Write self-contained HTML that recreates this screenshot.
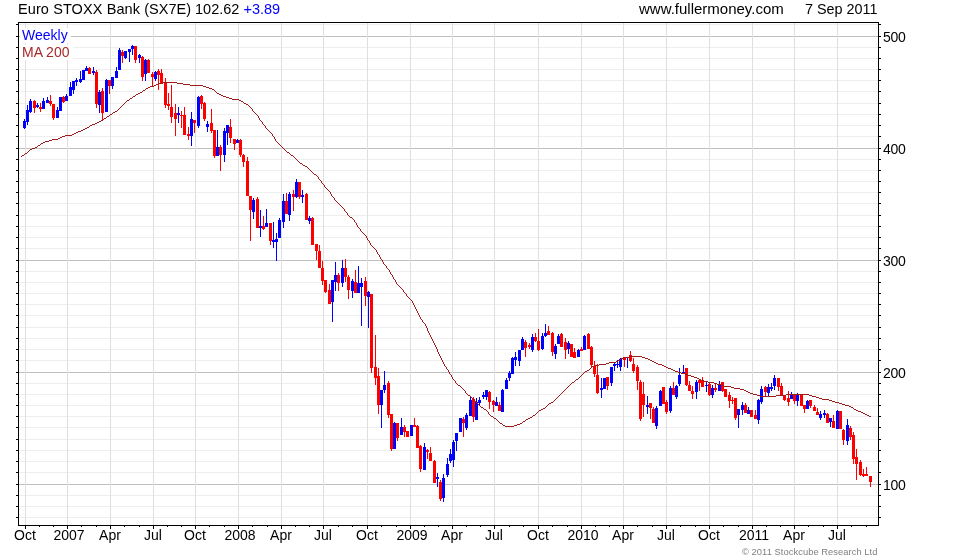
<!DOCTYPE html>
<html><head><meta charset="utf-8"><title>Euro STOXX Bank (SX7E)</title>
<style>
html,body{margin:0;padding:0;background:#fff;}
body{width:960px;height:560px;position:relative;overflow:hidden;font-family:"Liberation Sans",sans-serif;color:#000;}
.t,.xl,.yl{will-change:transform;}
.t{position:absolute;white-space:nowrap;font-size:14.5px;line-height:16px;}
.xl{position:absolute;top:527px;width:60px;text-align:center;font-size:14px;line-height:16px;white-space:nowrap;}
.yl{position:absolute;left:883px;letter-spacing:-0.3px;font-size:14px;line-height:16px;white-space:nowrap;}
</style></head><body>
<svg width="960" height="560" viewBox="0 0 960 560" style="position:absolute;left:0;top:0">
<rect width="960" height="560" fill="#fff"/>
<g shape-rendering="crispEdges">
<rect x="19" y="517" width="859" height="1" fill="#eeeeee"/>
<rect x="19" y="506" width="859" height="1" fill="#eeeeee"/>
<rect x="19" y="495" width="859" height="1" fill="#eeeeee"/>
<rect x="19" y="484" width="859" height="1" fill="#bfbfbf"/>
<rect x="19" y="472" width="859" height="1" fill="#eeeeee"/>
<rect x="19" y="461" width="859" height="1" fill="#eeeeee"/>
<rect x="19" y="450" width="859" height="1" fill="#eeeeee"/>
<rect x="19" y="439" width="859" height="1" fill="#eeeeee"/>
<rect x="19" y="427" width="859" height="1" fill="#eeeeee"/>
<rect x="19" y="416" width="859" height="1" fill="#eeeeee"/>
<rect x="19" y="405" width="859" height="1" fill="#eeeeee"/>
<rect x="19" y="394" width="859" height="1" fill="#eeeeee"/>
<rect x="19" y="383" width="859" height="1" fill="#eeeeee"/>
<rect x="19" y="372" width="859" height="1" fill="#bfbfbf"/>
<rect x="19" y="360" width="859" height="1" fill="#eeeeee"/>
<rect x="19" y="349" width="859" height="1" fill="#eeeeee"/>
<rect x="19" y="338" width="859" height="1" fill="#eeeeee"/>
<rect x="19" y="327" width="859" height="1" fill="#eeeeee"/>
<rect x="19" y="315" width="859" height="1" fill="#eeeeee"/>
<rect x="19" y="304" width="859" height="1" fill="#eeeeee"/>
<rect x="19" y="293" width="859" height="1" fill="#eeeeee"/>
<rect x="19" y="282" width="859" height="1" fill="#eeeeee"/>
<rect x="19" y="271" width="859" height="1" fill="#eeeeee"/>
<rect x="19" y="260" width="859" height="1" fill="#bfbfbf"/>
<rect x="19" y="248" width="859" height="1" fill="#eeeeee"/>
<rect x="19" y="237" width="859" height="1" fill="#eeeeee"/>
<rect x="19" y="226" width="859" height="1" fill="#eeeeee"/>
<rect x="19" y="215" width="859" height="1" fill="#eeeeee"/>
<rect x="19" y="203" width="859" height="1" fill="#eeeeee"/>
<rect x="19" y="192" width="859" height="1" fill="#eeeeee"/>
<rect x="19" y="181" width="859" height="1" fill="#eeeeee"/>
<rect x="19" y="170" width="859" height="1" fill="#eeeeee"/>
<rect x="19" y="159" width="859" height="1" fill="#eeeeee"/>
<rect x="19" y="148" width="859" height="1" fill="#bfbfbf"/>
<rect x="19" y="136" width="859" height="1" fill="#eeeeee"/>
<rect x="19" y="125" width="859" height="1" fill="#eeeeee"/>
<rect x="19" y="114" width="859" height="1" fill="#eeeeee"/>
<rect x="19" y="103" width="859" height="1" fill="#eeeeee"/>
<rect x="19" y="91" width="859" height="1" fill="#eeeeee"/>
<rect x="19" y="80" width="859" height="1" fill="#eeeeee"/>
<rect x="19" y="69" width="859" height="1" fill="#eeeeee"/>
<rect x="19" y="58" width="859" height="1" fill="#eeeeee"/>
<rect x="19" y="47" width="859" height="1" fill="#eeeeee"/>
<rect x="19" y="36" width="859" height="1" fill="#bfbfbf"/>
<rect x="19" y="24" width="859" height="1" fill="#eeeeee"/>
<rect x="25" y="23" width="1" height="502" fill="#dfdfdf"/>
<rect x="67" y="23" width="1" height="502" fill="#dfdfdf"/>
<rect x="110" y="23" width="1" height="502" fill="#dfdfdf"/>
<rect x="153" y="23" width="1" height="502" fill="#dfdfdf"/>
<rect x="195" y="23" width="1" height="502" fill="#dfdfdf"/>
<rect x="238" y="23" width="1" height="502" fill="#dfdfdf"/>
<rect x="281" y="23" width="1" height="502" fill="#dfdfdf"/>
<rect x="323" y="23" width="1" height="502" fill="#dfdfdf"/>
<rect x="367" y="23" width="1" height="502" fill="#dfdfdf"/>
<rect x="410" y="23" width="1" height="502" fill="#dfdfdf"/>
<rect x="452" y="23" width="1" height="502" fill="#dfdfdf"/>
<rect x="494" y="23" width="1" height="502" fill="#dfdfdf"/>
<rect x="538" y="23" width="1" height="502" fill="#dfdfdf"/>
<rect x="581" y="23" width="1" height="502" fill="#dfdfdf"/>
<rect x="623" y="23" width="1" height="502" fill="#dfdfdf"/>
<rect x="666" y="23" width="1" height="502" fill="#dfdfdf"/>
<rect x="709" y="23" width="1" height="502" fill="#dfdfdf"/>
<rect x="752" y="23" width="1" height="502" fill="#dfdfdf"/>
<rect x="794" y="23" width="1" height="502" fill="#dfdfdf"/>
<rect x="837" y="23" width="1" height="502" fill="#dfdfdf"/>
</g>
<rect x="20" y="28" width="51" height="15" fill="#fff"/>
<rect x="20" y="45" width="53" height="15" fill="#fff"/>
<g shape-rendering="crispEdges">
<rect x="24" y="119" width="1" height="10" fill="#0000ff"/>
<rect x="23" y="121" width="3" height="7" fill="#0000ff"/>
<rect x="27" y="105" width="1" height="20" fill="#0000ff"/>
<rect x="26" y="110" width="3" height="12" fill="#0000ff"/>
<rect x="30" y="99" width="1" height="14" fill="#0000ff"/>
<rect x="29" y="101" width="3" height="11" fill="#0000ff"/>
<rect x="34" y="100" width="1" height="13" fill="#ff0000"/>
<rect x="33" y="101" width="3" height="7" fill="#ff0000"/>
<rect x="37" y="103" width="1" height="5" fill="#0000ff"/>
<rect x="36" y="105" width="3" height="2" fill="#0000ff"/>
<rect x="40" y="103" width="1" height="9" fill="#ff0000"/>
<rect x="39" y="107" width="3" height="2" fill="#ff0000"/>
<rect x="43" y="98" width="1" height="11" fill="#0000ff"/>
<rect x="42" y="101" width="3" height="8" fill="#0000ff"/>
<rect x="47" y="97" width="1" height="6" fill="#0000ff"/>
<rect x="46" y="100" width="3" height="3" fill="#0000ff"/>
<rect x="50" y="95" width="1" height="11" fill="#ff0000"/>
<rect x="49" y="101" width="3" height="3" fill="#ff0000"/>
<rect x="53" y="104" width="1" height="16" fill="#ff0000"/>
<rect x="52" y="104" width="3" height="14" fill="#ff0000"/>
<rect x="57" y="107" width="1" height="11" fill="#0000ff"/>
<rect x="56" y="110" width="3" height="8" fill="#0000ff"/>
<rect x="60" y="97" width="1" height="14" fill="#0000ff"/>
<rect x="59" y="97" width="3" height="14" fill="#0000ff"/>
<rect x="63" y="96" width="1" height="7" fill="#ff0000"/>
<rect x="62" y="97" width="3" height="5" fill="#ff0000"/>
<rect x="66" y="94" width="1" height="7" fill="#0000ff"/>
<rect x="65" y="96" width="3" height="5" fill="#0000ff"/>
<rect x="70" y="82" width="1" height="14" fill="#0000ff"/>
<rect x="69" y="87" width="3" height="9" fill="#0000ff"/>
<rect x="73" y="81" width="1" height="13" fill="#0000ff"/>
<rect x="72" y="81" width="3" height="9" fill="#0000ff"/>
<rect x="76" y="78" width="1" height="8" fill="#0000ff"/>
<rect x="75" y="80" width="3" height="2" fill="#0000ff"/>
<rect x="80" y="71" width="1" height="12" fill="#0000ff"/>
<rect x="79" y="79" width="3" height="3" fill="#0000ff"/>
<rect x="83" y="70" width="1" height="10" fill="#0000ff"/>
<rect x="82" y="70" width="3" height="10" fill="#0000ff"/>
<rect x="86" y="66" width="1" height="5" fill="#0000ff"/>
<rect x="85" y="68" width="3" height="3" fill="#0000ff"/>
<rect x="89" y="67" width="1" height="7" fill="#ff0000"/>
<rect x="88" y="68" width="3" height="6" fill="#ff0000"/>
<rect x="93" y="67" width="1" height="8" fill="#0000ff"/>
<rect x="92" y="71" width="3" height="2" fill="#0000ff"/>
<rect x="96" y="70" width="1" height="38" fill="#ff0000"/>
<rect x="95" y="72" width="3" height="32" fill="#ff0000"/>
<rect x="99" y="90" width="1" height="23" fill="#0000ff"/>
<rect x="98" y="92" width="3" height="13" fill="#0000ff"/>
<rect x="102" y="88" width="1" height="32" fill="#ff0000"/>
<rect x="101" y="91" width="3" height="22" fill="#ff0000"/>
<rect x="106" y="79" width="1" height="33" fill="#0000ff"/>
<rect x="105" y="80" width="3" height="32" fill="#0000ff"/>
<rect x="109" y="80" width="1" height="14" fill="#ff0000"/>
<rect x="108" y="80" width="3" height="6" fill="#ff0000"/>
<rect x="112" y="77" width="1" height="12" fill="#0000ff"/>
<rect x="111" y="77" width="3" height="9" fill="#0000ff"/>
<rect x="116" y="67" width="1" height="11" fill="#0000ff"/>
<rect x="115" y="71" width="3" height="7" fill="#0000ff"/>
<rect x="119" y="48" width="1" height="22" fill="#0000ff"/>
<rect x="118" y="50" width="3" height="20" fill="#0000ff"/>
<rect x="122" y="50" width="1" height="13" fill="#ff0000"/>
<rect x="121" y="52" width="3" height="4" fill="#ff0000"/>
<rect x="125" y="51" width="1" height="8" fill="#0000ff"/>
<rect x="124" y="51" width="3" height="7" fill="#0000ff"/>
<rect x="129" y="49" width="1" height="13" fill="#0000ff"/>
<rect x="128" y="49" width="3" height="3" fill="#0000ff"/>
<rect x="132" y="45" width="1" height="10" fill="#0000ff"/>
<rect x="131" y="46" width="3" height="3" fill="#0000ff"/>
<rect x="135" y="46" width="1" height="17" fill="#ff0000"/>
<rect x="134" y="46" width="3" height="14" fill="#ff0000"/>
<rect x="139" y="54" width="1" height="9" fill="#0000ff"/>
<rect x="138" y="55" width="3" height="3" fill="#0000ff"/>
<rect x="142" y="56" width="1" height="25" fill="#ff0000"/>
<rect x="141" y="57" width="3" height="20" fill="#ff0000"/>
<rect x="145" y="59" width="1" height="22" fill="#0000ff"/>
<rect x="144" y="60" width="3" height="14" fill="#0000ff"/>
<rect x="148" y="59" width="1" height="14" fill="#ff0000"/>
<rect x="147" y="60" width="3" height="13" fill="#ff0000"/>
<rect x="152" y="72" width="1" height="14" fill="#ff0000"/>
<rect x="151" y="74" width="3" height="3" fill="#ff0000"/>
<rect x="155" y="71" width="1" height="10" fill="#0000ff"/>
<rect x="154" y="72" width="3" height="7" fill="#0000ff"/>
<rect x="158" y="69" width="1" height="21" fill="#ff0000"/>
<rect x="157" y="71" width="3" height="4" fill="#ff0000"/>
<rect x="161" y="69" width="1" height="14" fill="#ff0000"/>
<rect x="160" y="73" width="3" height="10" fill="#ff0000"/>
<rect x="165" y="78" width="1" height="30" fill="#ff0000"/>
<rect x="164" y="83" width="3" height="22" fill="#ff0000"/>
<rect x="168" y="93" width="1" height="17" fill="#ff0000"/>
<rect x="167" y="104" width="3" height="2" fill="#ff0000"/>
<rect x="171" y="85" width="1" height="38" fill="#ff0000"/>
<rect x="170" y="107" width="3" height="10" fill="#ff0000"/>
<rect x="175" y="104" width="1" height="32" fill="#ff0000"/>
<rect x="174" y="113" width="3" height="6" fill="#ff0000"/>
<rect x="178" y="107" width="1" height="16" fill="#0000ff"/>
<rect x="177" y="113" width="3" height="2" fill="#0000ff"/>
<rect x="181" y="111" width="1" height="17" fill="#ff0000"/>
<rect x="180" y="115" width="3" height="1" fill="#ff0000"/>
<rect x="184" y="107" width="1" height="28" fill="#ff0000"/>
<rect x="183" y="115" width="3" height="20" fill="#ff0000"/>
<rect x="188" y="127" width="1" height="13" fill="#ff0000"/>
<rect x="187" y="134" width="3" height="2" fill="#ff0000"/>
<rect x="191" y="112" width="1" height="34" fill="#0000ff"/>
<rect x="190" y="119" width="3" height="17" fill="#0000ff"/>
<rect x="194" y="120" width="1" height="13" fill="#ff0000"/>
<rect x="193" y="120" width="3" height="3" fill="#ff0000"/>
<rect x="198" y="96" width="1" height="32" fill="#0000ff"/>
<rect x="197" y="97" width="3" height="29" fill="#0000ff"/>
<rect x="201" y="95" width="1" height="14" fill="#ff0000"/>
<rect x="200" y="96" width="3" height="8" fill="#ff0000"/>
<rect x="204" y="102" width="1" height="19" fill="#ff0000"/>
<rect x="203" y="103" width="3" height="16" fill="#ff0000"/>
<rect x="207" y="121" width="1" height="11" fill="#0000ff"/>
<rect x="206" y="124" width="3" height="3" fill="#0000ff"/>
<rect x="211" y="109" width="1" height="24" fill="#ff0000"/>
<rect x="210" y="123" width="3" height="8" fill="#ff0000"/>
<rect x="214" y="130" width="1" height="28" fill="#ff0000"/>
<rect x="213" y="130" width="3" height="26" fill="#ff0000"/>
<rect x="217" y="130" width="1" height="26" fill="#0000ff"/>
<rect x="216" y="147" width="3" height="9" fill="#0000ff"/>
<rect x="220" y="145" width="1" height="26" fill="#ff0000"/>
<rect x="219" y="147" width="3" height="8" fill="#ff0000"/>
<rect x="224" y="128" width="1" height="34" fill="#0000ff"/>
<rect x="223" y="131" width="3" height="24" fill="#0000ff"/>
<rect x="227" y="125" width="1" height="20" fill="#0000ff"/>
<rect x="226" y="125" width="3" height="8" fill="#0000ff"/>
<rect x="230" y="119" width="1" height="24" fill="#ff0000"/>
<rect x="229" y="127" width="3" height="11" fill="#ff0000"/>
<rect x="234" y="139" width="1" height="11" fill="#ff0000"/>
<rect x="233" y="139" width="3" height="5" fill="#ff0000"/>
<rect x="237" y="139" width="1" height="4" fill="#0000ff"/>
<rect x="236" y="140" width="3" height="3" fill="#0000ff"/>
<rect x="240" y="139" width="1" height="18" fill="#ff0000"/>
<rect x="239" y="140" width="3" height="15" fill="#ff0000"/>
<rect x="243" y="154" width="1" height="13" fill="#ff0000"/>
<rect x="242" y="155" width="3" height="7" fill="#ff0000"/>
<rect x="247" y="157" width="1" height="39" fill="#ff0000"/>
<rect x="246" y="161" width="3" height="35" fill="#ff0000"/>
<rect x="250" y="196" width="1" height="45" fill="#ff0000"/>
<rect x="249" y="196" width="3" height="14" fill="#ff0000"/>
<rect x="253" y="198" width="1" height="21" fill="#0000ff"/>
<rect x="252" y="200" width="3" height="12" fill="#0000ff"/>
<rect x="257" y="197" width="1" height="31" fill="#ff0000"/>
<rect x="256" y="199" width="3" height="29" fill="#ff0000"/>
<rect x="260" y="210" width="1" height="27" fill="#0000ff"/>
<rect x="259" y="226" width="3" height="2" fill="#0000ff"/>
<rect x="263" y="216" width="1" height="14" fill="#ff0000"/>
<rect x="262" y="226" width="3" height="3" fill="#ff0000"/>
<rect x="266" y="209" width="1" height="18" fill="#0000ff"/>
<rect x="265" y="223" width="3" height="4" fill="#0000ff"/>
<rect x="270" y="223" width="1" height="22" fill="#ff0000"/>
<rect x="269" y="223" width="3" height="18" fill="#ff0000"/>
<rect x="273" y="222" width="1" height="26" fill="#0000ff"/>
<rect x="272" y="240" width="3" height="2" fill="#0000ff"/>
<rect x="276" y="233" width="1" height="28" fill="#0000ff"/>
<rect x="275" y="239" width="3" height="3" fill="#0000ff"/>
<rect x="279" y="218" width="1" height="20" fill="#0000ff"/>
<rect x="278" y="220" width="3" height="18" fill="#0000ff"/>
<rect x="283" y="194" width="1" height="34" fill="#0000ff"/>
<rect x="282" y="201" width="3" height="21" fill="#0000ff"/>
<rect x="286" y="193" width="1" height="21" fill="#ff0000"/>
<rect x="285" y="201" width="3" height="13" fill="#ff0000"/>
<rect x="289" y="192" width="1" height="29" fill="#0000ff"/>
<rect x="288" y="194" width="3" height="21" fill="#0000ff"/>
<rect x="293" y="190" width="1" height="21" fill="#ff0000"/>
<rect x="292" y="194" width="3" height="3" fill="#ff0000"/>
<rect x="296" y="179" width="1" height="19" fill="#0000ff"/>
<rect x="295" y="182" width="3" height="15" fill="#0000ff"/>
<rect x="299" y="182" width="1" height="17" fill="#ff0000"/>
<rect x="298" y="182" width="3" height="15" fill="#ff0000"/>
<rect x="302" y="190" width="1" height="13" fill="#0000ff"/>
<rect x="301" y="195" width="3" height="2" fill="#0000ff"/>
<rect x="306" y="193" width="1" height="27" fill="#ff0000"/>
<rect x="305" y="194" width="3" height="26" fill="#ff0000"/>
<rect x="309" y="216" width="1" height="8" fill="#0000ff"/>
<rect x="308" y="218" width="3" height="3" fill="#0000ff"/>
<rect x="312" y="217" width="1" height="28" fill="#ff0000"/>
<rect x="311" y="218" width="3" height="27" fill="#ff0000"/>
<rect x="316" y="244" width="1" height="16" fill="#ff0000"/>
<rect x="315" y="244" width="3" height="7" fill="#ff0000"/>
<rect x="319" y="245" width="1" height="23" fill="#ff0000"/>
<rect x="318" y="251" width="3" height="17" fill="#ff0000"/>
<rect x="322" y="261" width="1" height="24" fill="#ff0000"/>
<rect x="321" y="268" width="3" height="13" fill="#ff0000"/>
<rect x="325" y="280" width="1" height="13" fill="#ff0000"/>
<rect x="324" y="280" width="3" height="12" fill="#ff0000"/>
<rect x="329" y="284" width="1" height="20" fill="#ff0000"/>
<rect x="328" y="290" width="3" height="14" fill="#ff0000"/>
<rect x="332" y="280" width="1" height="42" fill="#0000ff"/>
<rect x="331" y="280" width="3" height="22" fill="#0000ff"/>
<rect x="335" y="262" width="1" height="29" fill="#0000ff"/>
<rect x="334" y="275" width="3" height="7" fill="#0000ff"/>
<rect x="338" y="273" width="1" height="18" fill="#ff0000"/>
<rect x="337" y="275" width="3" height="8" fill="#ff0000"/>
<rect x="342" y="260" width="1" height="27" fill="#0000ff"/>
<rect x="341" y="268" width="3" height="15" fill="#0000ff"/>
<rect x="345" y="259" width="1" height="23" fill="#ff0000"/>
<rect x="344" y="268" width="3" height="9" fill="#ff0000"/>
<rect x="348" y="275" width="1" height="24" fill="#ff0000"/>
<rect x="347" y="277" width="3" height="13" fill="#ff0000"/>
<rect x="352" y="279" width="1" height="19" fill="#0000ff"/>
<rect x="351" y="281" width="3" height="10" fill="#0000ff"/>
<rect x="355" y="270" width="1" height="23" fill="#ff0000"/>
<rect x="354" y="282" width="3" height="11" fill="#ff0000"/>
<rect x="358" y="266" width="1" height="27" fill="#0000ff"/>
<rect x="357" y="283" width="3" height="10" fill="#0000ff"/>
<rect x="361" y="278" width="1" height="48" fill="#0000ff"/>
<rect x="360" y="283" width="3" height="4" fill="#0000ff"/>
<rect x="365" y="277" width="1" height="29" fill="#ff0000"/>
<rect x="364" y="281" width="3" height="15" fill="#ff0000"/>
<rect x="368" y="291" width="1" height="37" fill="#0000ff"/>
<rect x="367" y="292" width="3" height="5" fill="#0000ff"/>
<rect x="371" y="294" width="1" height="79" fill="#ff0000"/>
<rect x="370" y="294" width="3" height="74" fill="#ff0000"/>
<rect x="375" y="335" width="1" height="50" fill="#ff0000"/>
<rect x="374" y="367" width="3" height="11" fill="#ff0000"/>
<rect x="378" y="368" width="1" height="46" fill="#ff0000"/>
<rect x="377" y="376" width="3" height="29" fill="#ff0000"/>
<rect x="381" y="390" width="1" height="38" fill="#0000ff"/>
<rect x="380" y="390" width="3" height="15" fill="#0000ff"/>
<rect x="384" y="371" width="1" height="22" fill="#0000ff"/>
<rect x="383" y="385" width="3" height="5" fill="#0000ff"/>
<rect x="388" y="381" width="1" height="37" fill="#ff0000"/>
<rect x="387" y="383" width="3" height="32" fill="#ff0000"/>
<rect x="391" y="414" width="1" height="37" fill="#ff0000"/>
<rect x="390" y="414" width="3" height="35" fill="#ff0000"/>
<rect x="394" y="422" width="1" height="27" fill="#0000ff"/>
<rect x="393" y="423" width="3" height="26" fill="#0000ff"/>
<rect x="397" y="423" width="1" height="18" fill="#ff0000"/>
<rect x="396" y="423" width="3" height="15" fill="#ff0000"/>
<rect x="401" y="418" width="1" height="17" fill="#0000ff"/>
<rect x="400" y="427" width="3" height="8" fill="#0000ff"/>
<rect x="404" y="425" width="1" height="12" fill="#ff0000"/>
<rect x="403" y="427" width="3" height="5" fill="#ff0000"/>
<rect x="407" y="431" width="1" height="6" fill="#ff0000"/>
<rect x="406" y="431" width="3" height="6" fill="#ff0000"/>
<rect x="411" y="425" width="1" height="11" fill="#0000ff"/>
<rect x="410" y="425" width="3" height="11" fill="#0000ff"/>
<rect x="414" y="418" width="1" height="9" fill="#ff0000"/>
<rect x="413" y="425" width="3" height="2" fill="#ff0000"/>
<rect x="417" y="425" width="1" height="23" fill="#ff0000"/>
<rect x="416" y="426" width="3" height="22" fill="#ff0000"/>
<rect x="420" y="445" width="1" height="27" fill="#ff0000"/>
<rect x="419" y="446" width="3" height="23" fill="#ff0000"/>
<rect x="424" y="443" width="1" height="27" fill="#0000ff"/>
<rect x="423" y="447" width="3" height="23" fill="#0000ff"/>
<rect x="427" y="449" width="1" height="10" fill="#ff0000"/>
<rect x="426" y="450" width="3" height="2" fill="#ff0000"/>
<rect x="430" y="447" width="1" height="14" fill="#ff0000"/>
<rect x="429" y="453" width="3" height="8" fill="#ff0000"/>
<rect x="434" y="460" width="1" height="23" fill="#ff0000"/>
<rect x="433" y="461" width="3" height="22" fill="#ff0000"/>
<rect x="437" y="473" width="1" height="14" fill="#0000ff"/>
<rect x="436" y="477" width="3" height="2" fill="#0000ff"/>
<rect x="440" y="480" width="1" height="21" fill="#ff0000"/>
<rect x="439" y="482" width="3" height="17" fill="#ff0000"/>
<rect x="443" y="474" width="1" height="28" fill="#0000ff"/>
<rect x="442" y="478" width="3" height="20" fill="#0000ff"/>
<rect x="447" y="458" width="1" height="19" fill="#0000ff"/>
<rect x="446" y="464" width="3" height="11" fill="#0000ff"/>
<rect x="450" y="449" width="1" height="14" fill="#0000ff"/>
<rect x="449" y="454" width="3" height="7" fill="#0000ff"/>
<rect x="453" y="440" width="1" height="27" fill="#0000ff"/>
<rect x="452" y="442" width="3" height="18" fill="#0000ff"/>
<rect x="456" y="433" width="1" height="18" fill="#0000ff"/>
<rect x="455" y="433" width="3" height="8" fill="#0000ff"/>
<rect x="460" y="418" width="1" height="14" fill="#0000ff"/>
<rect x="459" y="418" width="3" height="14" fill="#0000ff"/>
<rect x="463" y="417" width="1" height="20" fill="#ff0000"/>
<rect x="462" y="419" width="3" height="4" fill="#ff0000"/>
<rect x="466" y="413" width="1" height="17" fill="#0000ff"/>
<rect x="465" y="415" width="3" height="13" fill="#0000ff"/>
<rect x="470" y="397" width="1" height="19" fill="#0000ff"/>
<rect x="469" y="400" width="3" height="16" fill="#0000ff"/>
<rect x="473" y="397" width="1" height="25" fill="#ff0000"/>
<rect x="472" y="399" width="3" height="18" fill="#ff0000"/>
<rect x="476" y="398" width="1" height="22" fill="#0000ff"/>
<rect x="475" y="402" width="3" height="18" fill="#0000ff"/>
<rect x="479" y="397" width="1" height="8" fill="#0000ff"/>
<rect x="478" y="400" width="3" height="3" fill="#0000ff"/>
<rect x="483" y="392" width="1" height="7" fill="#0000ff"/>
<rect x="482" y="395" width="3" height="2" fill="#0000ff"/>
<rect x="486" y="390" width="1" height="10" fill="#0000ff"/>
<rect x="485" y="390" width="3" height="7" fill="#0000ff"/>
<rect x="489" y="391" width="1" height="18" fill="#ff0000"/>
<rect x="488" y="392" width="3" height="10" fill="#ff0000"/>
<rect x="493" y="400" width="1" height="12" fill="#ff0000"/>
<rect x="492" y="401" width="3" height="4" fill="#ff0000"/>
<rect x="496" y="397" width="1" height="9" fill="#0000ff"/>
<rect x="495" y="402" width="3" height="4" fill="#0000ff"/>
<rect x="499" y="402" width="1" height="9" fill="#ff0000"/>
<rect x="498" y="405" width="3" height="6" fill="#ff0000"/>
<rect x="502" y="389" width="1" height="23" fill="#0000ff"/>
<rect x="501" y="390" width="3" height="22" fill="#0000ff"/>
<rect x="506" y="378" width="1" height="11" fill="#0000ff"/>
<rect x="505" y="380" width="3" height="9" fill="#0000ff"/>
<rect x="509" y="371" width="1" height="10" fill="#0000ff"/>
<rect x="508" y="373" width="3" height="5" fill="#0000ff"/>
<rect x="512" y="357" width="1" height="17" fill="#0000ff"/>
<rect x="511" y="358" width="3" height="16" fill="#0000ff"/>
<rect x="515" y="352" width="1" height="14" fill="#0000ff"/>
<rect x="514" y="357" width="3" height="3" fill="#0000ff"/>
<rect x="519" y="350" width="1" height="16" fill="#0000ff"/>
<rect x="518" y="350" width="3" height="11" fill="#0000ff"/>
<rect x="522" y="337" width="1" height="13" fill="#0000ff"/>
<rect x="521" y="339" width="3" height="11" fill="#0000ff"/>
<rect x="525" y="340" width="1" height="17" fill="#ff0000"/>
<rect x="524" y="342" width="3" height="6" fill="#ff0000"/>
<rect x="529" y="343" width="1" height="6" fill="#ff0000"/>
<rect x="528" y="345" width="3" height="2" fill="#ff0000"/>
<rect x="532" y="334" width="1" height="18" fill="#0000ff"/>
<rect x="531" y="337" width="3" height="13" fill="#0000ff"/>
<rect x="535" y="333" width="1" height="9" fill="#ff0000"/>
<rect x="534" y="337" width="3" height="4" fill="#ff0000"/>
<rect x="538" y="329" width="1" height="22" fill="#ff0000"/>
<rect x="537" y="341" width="3" height="9" fill="#ff0000"/>
<rect x="542" y="333" width="1" height="17" fill="#0000ff"/>
<rect x="541" y="336" width="3" height="13" fill="#0000ff"/>
<rect x="545" y="324" width="1" height="13" fill="#0000ff"/>
<rect x="544" y="333" width="3" height="3" fill="#0000ff"/>
<rect x="548" y="326" width="1" height="9" fill="#ff0000"/>
<rect x="547" y="331" width="3" height="4" fill="#ff0000"/>
<rect x="552" y="332" width="1" height="24" fill="#ff0000"/>
<rect x="551" y="333" width="3" height="19" fill="#ff0000"/>
<rect x="555" y="344" width="1" height="15" fill="#0000ff"/>
<rect x="554" y="346" width="3" height="8" fill="#0000ff"/>
<rect x="558" y="334" width="1" height="10" fill="#0000ff"/>
<rect x="557" y="336" width="3" height="8" fill="#0000ff"/>
<rect x="561" y="333" width="1" height="14" fill="#ff0000"/>
<rect x="560" y="334" width="3" height="13" fill="#ff0000"/>
<rect x="565" y="338" width="1" height="21" fill="#ff0000"/>
<rect x="564" y="342" width="3" height="8" fill="#ff0000"/>
<rect x="568" y="341" width="1" height="13" fill="#0000ff"/>
<rect x="567" y="343" width="3" height="6" fill="#0000ff"/>
<rect x="571" y="344" width="1" height="13" fill="#ff0000"/>
<rect x="570" y="344" width="3" height="13" fill="#ff0000"/>
<rect x="574" y="348" width="1" height="10" fill="#ff0000"/>
<rect x="573" y="352" width="3" height="6" fill="#ff0000"/>
<rect x="578" y="349" width="1" height="8" fill="#0000ff"/>
<rect x="577" y="350" width="3" height="7" fill="#0000ff"/>
<rect x="581" y="347" width="1" height="4" fill="#ff0000"/>
<rect x="580" y="349" width="3" height="2" fill="#ff0000"/>
<rect x="584" y="335" width="1" height="15" fill="#0000ff"/>
<rect x="583" y="336" width="3" height="14" fill="#0000ff"/>
<rect x="588" y="333" width="1" height="16" fill="#ff0000"/>
<rect x="587" y="334" width="3" height="15" fill="#ff0000"/>
<rect x="591" y="346" width="1" height="22" fill="#ff0000"/>
<rect x="590" y="347" width="3" height="18" fill="#ff0000"/>
<rect x="594" y="361" width="1" height="16" fill="#ff0000"/>
<rect x="593" y="366" width="3" height="8" fill="#ff0000"/>
<rect x="597" y="364" width="1" height="30" fill="#ff0000"/>
<rect x="596" y="375" width="3" height="18" fill="#ff0000"/>
<rect x="601" y="378" width="1" height="20" fill="#0000ff"/>
<rect x="600" y="388" width="3" height="2" fill="#0000ff"/>
<rect x="604" y="378" width="1" height="11" fill="#0000ff"/>
<rect x="603" y="378" width="3" height="11" fill="#0000ff"/>
<rect x="607" y="377" width="1" height="13" fill="#ff0000"/>
<rect x="606" y="377" width="3" height="9" fill="#ff0000"/>
<rect x="611" y="367" width="1" height="19" fill="#0000ff"/>
<rect x="610" y="367" width="3" height="16" fill="#0000ff"/>
<rect x="614" y="362" width="1" height="9" fill="#0000ff"/>
<rect x="613" y="364" width="3" height="2" fill="#0000ff"/>
<rect x="617" y="360" width="1" height="8" fill="#0000ff"/>
<rect x="616" y="364" width="3" height="1" fill="#0000ff"/>
<rect x="620" y="358" width="1" height="13" fill="#0000ff"/>
<rect x="619" y="359" width="3" height="8" fill="#0000ff"/>
<rect x="624" y="357" width="1" height="10" fill="#ff0000"/>
<rect x="623" y="358" width="3" height="2" fill="#ff0000"/>
<rect x="627" y="357" width="1" height="11" fill="#0000ff"/>
<rect x="626" y="357" width="3" height="1" fill="#0000ff"/>
<rect x="630" y="351" width="1" height="11" fill="#ff0000"/>
<rect x="629" y="355" width="3" height="6" fill="#ff0000"/>
<rect x="633" y="358" width="1" height="15" fill="#ff0000"/>
<rect x="632" y="364" width="3" height="7" fill="#ff0000"/>
<rect x="637" y="365" width="1" height="25" fill="#ff0000"/>
<rect x="636" y="367" width="3" height="14" fill="#ff0000"/>
<rect x="640" y="380" width="1" height="41" fill="#ff0000"/>
<rect x="639" y="382" width="3" height="37" fill="#ff0000"/>
<rect x="643" y="382" width="1" height="35" fill="#ff0000"/>
<rect x="642" y="394" width="3" height="11" fill="#ff0000"/>
<rect x="647" y="396" width="1" height="18" fill="#0000ff"/>
<rect x="646" y="405" width="3" height="2" fill="#0000ff"/>
<rect x="650" y="403" width="1" height="16" fill="#ff0000"/>
<rect x="649" y="403" width="3" height="5" fill="#ff0000"/>
<rect x="653" y="407" width="1" height="16" fill="#ff0000"/>
<rect x="652" y="409" width="3" height="14" fill="#ff0000"/>
<rect x="656" y="406" width="1" height="23" fill="#0000ff"/>
<rect x="655" y="408" width="3" height="18" fill="#0000ff"/>
<rect x="660" y="390" width="1" height="16" fill="#0000ff"/>
<rect x="659" y="391" width="3" height="15" fill="#0000ff"/>
<rect x="663" y="387" width="1" height="17" fill="#ff0000"/>
<rect x="662" y="387" width="3" height="17" fill="#ff0000"/>
<rect x="666" y="400" width="1" height="14" fill="#ff0000"/>
<rect x="665" y="402" width="3" height="10" fill="#ff0000"/>
<rect x="670" y="386" width="1" height="27" fill="#0000ff"/>
<rect x="669" y="388" width="3" height="23" fill="#0000ff"/>
<rect x="673" y="382" width="1" height="13" fill="#ff0000"/>
<rect x="672" y="388" width="3" height="7" fill="#ff0000"/>
<rect x="676" y="385" width="1" height="14" fill="#0000ff"/>
<rect x="675" y="386" width="3" height="11" fill="#0000ff"/>
<rect x="679" y="368" width="1" height="18" fill="#0000ff"/>
<rect x="678" y="375" width="3" height="9" fill="#0000ff"/>
<rect x="683" y="365" width="1" height="8" fill="#0000ff"/>
<rect x="682" y="372" width="3" height="1" fill="#0000ff"/>
<rect x="686" y="368" width="1" height="18" fill="#ff0000"/>
<rect x="685" y="368" width="3" height="17" fill="#ff0000"/>
<rect x="689" y="381" width="1" height="10" fill="#ff0000"/>
<rect x="688" y="385" width="3" height="6" fill="#ff0000"/>
<rect x="692" y="386" width="1" height="13" fill="#ff0000"/>
<rect x="691" y="391" width="3" height="3" fill="#ff0000"/>
<rect x="696" y="380" width="1" height="19" fill="#0000ff"/>
<rect x="695" y="382" width="3" height="10" fill="#0000ff"/>
<rect x="699" y="379" width="1" height="12" fill="#ff0000"/>
<rect x="698" y="380" width="3" height="3" fill="#ff0000"/>
<rect x="702" y="377" width="1" height="10" fill="#ff0000"/>
<rect x="701" y="380" width="3" height="7" fill="#ff0000"/>
<rect x="706" y="381" width="1" height="11" fill="#0000ff"/>
<rect x="705" y="385" width="3" height="1" fill="#0000ff"/>
<rect x="709" y="383" width="1" height="13" fill="#ff0000"/>
<rect x="708" y="384" width="3" height="11" fill="#ff0000"/>
<rect x="712" y="385" width="1" height="13" fill="#0000ff"/>
<rect x="711" y="388" width="3" height="7" fill="#0000ff"/>
<rect x="715" y="384" width="1" height="8" fill="#ff0000"/>
<rect x="714" y="388" width="3" height="2" fill="#ff0000"/>
<rect x="719" y="381" width="1" height="10" fill="#0000ff"/>
<rect x="718" y="385" width="3" height="6" fill="#0000ff"/>
<rect x="722" y="382" width="1" height="10" fill="#ff0000"/>
<rect x="721" y="382" width="3" height="9" fill="#ff0000"/>
<rect x="725" y="389" width="1" height="8" fill="#ff0000"/>
<rect x="724" y="389" width="3" height="8" fill="#ff0000"/>
<rect x="729" y="392" width="1" height="16" fill="#ff0000"/>
<rect x="728" y="395" width="3" height="6" fill="#ff0000"/>
<rect x="732" y="397" width="1" height="7" fill="#ff0000"/>
<rect x="731" y="400" width="3" height="1" fill="#ff0000"/>
<rect x="735" y="398" width="1" height="22" fill="#ff0000"/>
<rect x="734" y="398" width="3" height="20" fill="#ff0000"/>
<rect x="738" y="409" width="1" height="19" fill="#0000ff"/>
<rect x="737" y="409" width="3" height="6" fill="#0000ff"/>
<rect x="742" y="402" width="1" height="13" fill="#0000ff"/>
<rect x="741" y="405" width="3" height="5" fill="#0000ff"/>
<rect x="745" y="403" width="1" height="10" fill="#ff0000"/>
<rect x="744" y="405" width="3" height="8" fill="#ff0000"/>
<rect x="748" y="407" width="1" height="7" fill="#0000ff"/>
<rect x="747" y="410" width="3" height="4" fill="#0000ff"/>
<rect x="751" y="410" width="1" height="7" fill="#ff0000"/>
<rect x="750" y="410" width="3" height="7" fill="#ff0000"/>
<rect x="755" y="410" width="1" height="9" fill="#ff0000"/>
<rect x="754" y="415" width="3" height="4" fill="#ff0000"/>
<rect x="758" y="399" width="1" height="25" fill="#0000ff"/>
<rect x="757" y="400" width="3" height="20" fill="#0000ff"/>
<rect x="761" y="386" width="1" height="18" fill="#0000ff"/>
<rect x="760" y="389" width="3" height="13" fill="#0000ff"/>
<rect x="765" y="386" width="1" height="10" fill="#ff0000"/>
<rect x="764" y="387" width="3" height="5" fill="#ff0000"/>
<rect x="768" y="384" width="1" height="12" fill="#0000ff"/>
<rect x="767" y="387" width="3" height="6" fill="#0000ff"/>
<rect x="771" y="383" width="1" height="8" fill="#0000ff"/>
<rect x="770" y="387" width="3" height="2" fill="#0000ff"/>
<rect x="774" y="375" width="1" height="15" fill="#0000ff"/>
<rect x="773" y="378" width="3" height="8" fill="#0000ff"/>
<rect x="778" y="378" width="1" height="13" fill="#ff0000"/>
<rect x="777" y="378" width="3" height="9" fill="#ff0000"/>
<rect x="781" y="383" width="1" height="12" fill="#ff0000"/>
<rect x="780" y="386" width="3" height="9" fill="#ff0000"/>
<rect x="784" y="395" width="1" height="6" fill="#ff0000"/>
<rect x="783" y="396" width="3" height="4" fill="#ff0000"/>
<rect x="788" y="391" width="1" height="15" fill="#ff0000"/>
<rect x="787" y="398" width="3" height="4" fill="#ff0000"/>
<rect x="791" y="392" width="1" height="7" fill="#0000ff"/>
<rect x="790" y="395" width="3" height="4" fill="#0000ff"/>
<rect x="794" y="394" width="1" height="10" fill="#ff0000"/>
<rect x="793" y="395" width="3" height="6" fill="#ff0000"/>
<rect x="797" y="393" width="1" height="13" fill="#0000ff"/>
<rect x="796" y="395" width="3" height="6" fill="#0000ff"/>
<rect x="801" y="395" width="1" height="11" fill="#ff0000"/>
<rect x="800" y="395" width="3" height="11" fill="#ff0000"/>
<rect x="804" y="405" width="1" height="8" fill="#ff0000"/>
<rect x="803" y="405" width="3" height="4" fill="#ff0000"/>
<rect x="807" y="400" width="1" height="9" fill="#0000ff"/>
<rect x="806" y="401" width="3" height="8" fill="#0000ff"/>
<rect x="810" y="400" width="1" height="8" fill="#ff0000"/>
<rect x="809" y="400" width="3" height="6" fill="#ff0000"/>
<rect x="814" y="405" width="1" height="6" fill="#ff0000"/>
<rect x="813" y="407" width="3" height="4" fill="#ff0000"/>
<rect x="817" y="408" width="1" height="7" fill="#ff0000"/>
<rect x="816" y="412" width="3" height="3" fill="#ff0000"/>
<rect x="820" y="411" width="1" height="9" fill="#0000ff"/>
<rect x="819" y="414" width="3" height="4" fill="#0000ff"/>
<rect x="824" y="410" width="1" height="8" fill="#0000ff"/>
<rect x="823" y="413" width="3" height="2" fill="#0000ff"/>
<rect x="827" y="413" width="1" height="10" fill="#ff0000"/>
<rect x="826" y="414" width="3" height="9" fill="#ff0000"/>
<rect x="830" y="418" width="1" height="9" fill="#0000ff"/>
<rect x="829" y="418" width="3" height="4" fill="#0000ff"/>
<rect x="833" y="415" width="1" height="13" fill="#ff0000"/>
<rect x="832" y="421" width="3" height="7" fill="#ff0000"/>
<rect x="837" y="410" width="1" height="19" fill="#0000ff"/>
<rect x="836" y="411" width="3" height="18" fill="#0000ff"/>
<rect x="840" y="411" width="1" height="18" fill="#ff0000"/>
<rect x="839" y="411" width="3" height="18" fill="#ff0000"/>
<rect x="843" y="429" width="1" height="16" fill="#ff0000"/>
<rect x="842" y="430" width="3" height="10" fill="#ff0000"/>
<rect x="847" y="419" width="1" height="26" fill="#0000ff"/>
<rect x="846" y="425" width="3" height="16" fill="#0000ff"/>
<rect x="850" y="426" width="1" height="14" fill="#ff0000"/>
<rect x="849" y="428" width="3" height="9" fill="#ff0000"/>
<rect x="853" y="432" width="1" height="32" fill="#ff0000"/>
<rect x="852" y="435" width="3" height="24" fill="#ff0000"/>
<rect x="856" y="449" width="1" height="31" fill="#ff0000"/>
<rect x="855" y="457" width="3" height="7" fill="#ff0000"/>
<rect x="860" y="460" width="1" height="16" fill="#ff0000"/>
<rect x="859" y="462" width="3" height="13" fill="#ff0000"/>
<rect x="863" y="469" width="1" height="8" fill="#ff0000"/>
<rect x="862" y="474" width="3" height="2" fill="#ff0000"/>
<rect x="866" y="467" width="1" height="9" fill="#ff0000"/>
<rect x="865" y="474" width="3" height="2" fill="#ff0000"/>
<rect x="870" y="476" width="1" height="11" fill="#ff0000"/>
<rect x="869" y="476" width="3" height="6" fill="#ff0000"/>
</g>
<g shape-rendering="crispEdges" fill="#9c1c1c">
<rect x="163" y="82" width="14" height="1"/>
<rect x="158" y="83" width="5" height="1"/>
<rect x="177" y="83" width="6" height="1"/>
<rect x="156" y="84" width="2" height="1"/>
<rect x="183" y="84" width="7" height="1"/>
<rect x="154" y="85" width="2" height="1"/>
<rect x="190" y="85" width="13" height="1"/>
<rect x="150" y="86" width="4" height="1"/>
<rect x="203" y="86" width="3" height="1"/>
<rect x="148" y="87" width="2" height="1"/>
<rect x="206" y="87" width="3" height="1"/>
<rect x="146" y="88" width="2" height="1"/>
<rect x="209" y="88" width="3" height="1"/>
<rect x="145" y="89" width="1" height="1"/>
<rect x="212" y="89" width="2" height="1"/>
<rect x="143" y="90" width="2" height="1"/>
<rect x="214" y="90" width="1" height="1"/>
<rect x="142" y="91" width="1" height="1"/>
<rect x="215" y="91" width="1" height="1"/>
<rect x="140" y="92" width="2" height="1"/>
<rect x="216" y="92" width="1" height="1"/>
<rect x="138" y="93" width="2" height="1"/>
<rect x="217" y="93" width="2" height="1"/>
<rect x="136" y="94" width="2" height="1"/>
<rect x="219" y="94" width="2" height="1"/>
<rect x="135" y="95" width="1" height="1"/>
<rect x="221" y="95" width="2" height="1"/>
<rect x="133" y="96" width="2" height="1"/>
<rect x="223" y="96" width="3" height="1"/>
<rect x="132" y="97" width="1" height="1"/>
<rect x="226" y="97" width="3" height="1"/>
<rect x="130" y="98" width="2" height="1"/>
<rect x="229" y="98" width="3" height="1"/>
<rect x="129" y="99" width="1" height="1"/>
<rect x="232" y="99" width="7" height="1"/>
<rect x="127" y="100" width="2" height="1"/>
<rect x="239" y="100" width="2" height="1"/>
<rect x="126" y="101" width="1" height="1"/>
<rect x="241" y="101" width="2" height="1"/>
<rect x="125" y="102" width="1" height="1"/>
<rect x="243" y="102" width="1" height="1"/>
<rect x="124" y="103" width="1" height="1"/>
<rect x="244" y="103" width="2" height="1"/>
<rect x="123" y="104" width="1" height="1"/>
<rect x="246" y="104" width="2" height="1"/>
<rect x="122" y="105" width="1" height="1"/>
<rect x="248" y="105" width="1" height="1"/>
<rect x="121" y="106" width="1" height="1"/>
<rect x="249" y="106" width="1" height="1"/>
<rect x="120" y="107" width="1" height="1"/>
<rect x="250" y="107" width="1" height="1"/>
<rect x="119" y="108" width="1" height="1"/>
<rect x="251" y="108" width="1" height="1"/>
<rect x="118" y="109" width="1" height="1"/>
<rect x="252" y="109" width="1" height="1"/>
<rect x="117" y="110" width="1" height="1"/>
<rect x="252" y="110" width="1" height="1"/>
<rect x="115" y="111" width="2" height="1"/>
<rect x="253" y="111" width="1" height="1"/>
<rect x="113" y="112" width="2" height="1"/>
<rect x="254" y="112" width="1" height="1"/>
<rect x="112" y="113" width="1" height="1"/>
<rect x="255" y="113" width="1" height="1"/>
<rect x="110" y="114" width="2" height="1"/>
<rect x="256" y="114" width="1" height="1"/>
<rect x="109" y="115" width="1" height="1"/>
<rect x="257" y="115" width="1" height="1"/>
<rect x="107" y="116" width="2" height="1"/>
<rect x="258" y="116" width="1" height="1"/>
<rect x="106" y="117" width="1" height="1"/>
<rect x="258" y="117" width="1" height="1"/>
<rect x="104" y="118" width="2" height="1"/>
<rect x="259" y="118" width="1" height="1"/>
<rect x="103" y="119" width="1" height="1"/>
<rect x="259" y="119" width="1" height="1"/>
<rect x="101" y="120" width="2" height="1"/>
<rect x="260" y="120" width="1" height="1"/>
<rect x="99" y="121" width="2" height="1"/>
<rect x="261" y="121" width="1" height="1"/>
<rect x="97" y="122" width="2" height="1"/>
<rect x="262" y="122" width="1" height="1"/>
<rect x="95" y="123" width="2" height="1"/>
<rect x="262" y="123" width="1" height="1"/>
<rect x="92" y="124" width="3" height="1"/>
<rect x="263" y="124" width="1" height="1"/>
<rect x="90" y="125" width="2" height="1"/>
<rect x="264" y="125" width="1" height="1"/>
<rect x="89" y="126" width="1" height="1"/>
<rect x="265" y="126" width="1" height="1"/>
<rect x="87" y="127" width="2" height="1"/>
<rect x="265" y="127" width="1" height="1"/>
<rect x="85" y="128" width="2" height="1"/>
<rect x="266" y="128" width="1" height="1"/>
<rect x="83" y="129" width="2" height="1"/>
<rect x="267" y="129" width="1" height="1"/>
<rect x="81" y="130" width="2" height="1"/>
<rect x="268" y="130" width="1" height="1"/>
<rect x="78" y="131" width="3" height="1"/>
<rect x="269" y="131" width="1" height="1"/>
<rect x="76" y="132" width="2" height="1"/>
<rect x="270" y="132" width="1" height="1"/>
<rect x="74" y="133" width="2" height="1"/>
<rect x="271" y="133" width="1" height="1"/>
<rect x="72" y="134" width="2" height="1"/>
<rect x="272" y="134" width="1" height="1"/>
<rect x="65" y="135" width="7" height="1"/>
<rect x="272" y="135" width="1" height="1"/>
<rect x="62" y="136" width="3" height="1"/>
<rect x="273" y="136" width="1" height="1"/>
<rect x="60" y="137" width="2" height="1"/>
<rect x="274" y="137" width="1" height="1"/>
<rect x="58" y="138" width="2" height="1"/>
<rect x="274" y="138" width="1" height="1"/>
<rect x="52" y="139" width="6" height="1"/>
<rect x="275" y="139" width="1" height="1"/>
<rect x="49" y="140" width="3" height="1"/>
<rect x="275" y="140" width="1" height="1"/>
<rect x="45" y="141" width="4" height="1"/>
<rect x="276" y="141" width="1" height="1"/>
<rect x="43" y="142" width="2" height="1"/>
<rect x="277" y="142" width="1" height="1"/>
<rect x="41" y="143" width="2" height="1"/>
<rect x="278" y="143" width="1" height="1"/>
<rect x="40" y="144" width="1" height="1"/>
<rect x="279" y="144" width="1" height="1"/>
<rect x="38" y="145" width="2" height="1"/>
<rect x="280" y="145" width="1" height="1"/>
<rect x="37" y="146" width="1" height="1"/>
<rect x="281" y="146" width="1" height="1"/>
<rect x="35" y="147" width="2" height="1"/>
<rect x="282" y="147" width="1" height="1"/>
<rect x="32" y="148" width="3" height="1"/>
<rect x="283" y="148" width="1" height="1"/>
<rect x="30" y="149" width="2" height="1"/>
<rect x="284" y="149" width="1" height="1"/>
<rect x="29" y="150" width="1" height="1"/>
<rect x="285" y="150" width="1" height="1"/>
<rect x="28" y="151" width="1" height="1"/>
<rect x="286" y="151" width="1" height="1"/>
<rect x="27" y="152" width="1" height="1"/>
<rect x="287" y="152" width="2" height="1"/>
<rect x="25" y="153" width="2" height="1"/>
<rect x="289" y="153" width="1" height="1"/>
<rect x="24" y="154" width="1" height="1"/>
<rect x="290" y="154" width="1" height="1"/>
<rect x="22" y="155" width="2" height="1"/>
<rect x="291" y="155" width="2" height="1"/>
<rect x="21" y="156" width="1" height="1"/>
<rect x="293" y="156" width="1" height="1"/>
<rect x="294" y="157" width="1" height="1"/>
<rect x="295" y="158" width="1" height="1"/>
<rect x="296" y="159" width="1" height="1"/>
<rect x="297" y="160" width="1" height="1"/>
<rect x="298" y="161" width="1" height="1"/>
<rect x="299" y="162" width="1" height="1"/>
<rect x="300" y="163" width="2" height="1"/>
<rect x="302" y="164" width="1" height="1"/>
<rect x="303" y="165" width="2" height="1"/>
<rect x="305" y="166" width="2" height="1"/>
<rect x="307" y="167" width="1" height="1"/>
<rect x="308" y="168" width="1" height="1"/>
<rect x="309" y="169" width="1" height="1"/>
<rect x="310" y="170" width="1" height="1"/>
<rect x="311" y="171" width="1" height="1"/>
<rect x="312" y="172" width="1" height="1"/>
<rect x="313" y="173" width="1" height="1"/>
<rect x="314" y="174" width="2" height="1"/>
<rect x="316" y="175" width="1" height="1"/>
<rect x="317" y="176" width="1" height="1"/>
<rect x="318" y="177" width="1" height="1"/>
<rect x="318" y="178" width="1" height="1"/>
<rect x="319" y="179" width="1" height="1"/>
<rect x="320" y="180" width="1" height="1"/>
<rect x="321" y="181" width="1" height="1"/>
<rect x="321" y="182" width="1" height="1"/>
<rect x="322" y="183" width="1" height="1"/>
<rect x="323" y="184" width="1" height="1"/>
<rect x="324" y="185" width="1" height="1"/>
<rect x="324" y="186" width="1" height="1"/>
<rect x="325" y="187" width="1" height="1"/>
<rect x="326" y="188" width="1" height="1"/>
<rect x="327" y="189" width="1" height="1"/>
<rect x="328" y="190" width="1" height="1"/>
<rect x="329" y="191" width="1" height="1"/>
<rect x="330" y="192" width="1" height="1"/>
<rect x="330" y="193" width="1" height="1"/>
<rect x="331" y="194" width="1" height="1"/>
<rect x="331" y="195" width="1" height="1"/>
<rect x="332" y="196" width="1" height="1"/>
<rect x="333" y="197" width="1" height="1"/>
<rect x="334" y="198" width="1" height="1"/>
<rect x="334" y="199" width="1" height="1"/>
<rect x="335" y="200" width="1" height="1"/>
<rect x="336" y="201" width="1" height="1"/>
<rect x="337" y="202" width="1" height="1"/>
<rect x="338" y="203" width="1" height="1"/>
<rect x="339" y="204" width="1" height="1"/>
<rect x="340" y="205" width="1" height="1"/>
<rect x="341" y="206" width="1" height="1"/>
<rect x="342" y="207" width="1" height="1"/>
<rect x="343" y="208" width="1" height="1"/>
<rect x="344" y="209" width="1" height="1"/>
<rect x="344" y="210" width="1" height="1"/>
<rect x="345" y="211" width="1" height="1"/>
<rect x="346" y="212" width="1" height="1"/>
<rect x="347" y="213" width="1" height="1"/>
<rect x="347" y="214" width="1" height="1"/>
<rect x="348" y="215" width="1" height="1"/>
<rect x="349" y="216" width="1" height="1"/>
<rect x="350" y="217" width="2" height="1"/>
<rect x="352" y="218" width="1" height="1"/>
<rect x="353" y="219" width="1" height="1"/>
<rect x="354" y="220" width="1" height="1"/>
<rect x="354" y="221" width="1" height="1"/>
<rect x="355" y="222" width="1" height="1"/>
<rect x="356" y="223" width="1" height="1"/>
<rect x="356" y="224" width="1" height="1"/>
<rect x="357" y="225" width="1" height="1"/>
<rect x="357" y="226" width="1" height="1"/>
<rect x="358" y="227" width="1" height="1"/>
<rect x="359" y="228" width="1" height="1"/>
<rect x="360" y="229" width="1" height="1"/>
<rect x="360" y="230" width="1" height="1"/>
<rect x="361" y="231" width="1" height="1"/>
<rect x="362" y="232" width="1" height="1"/>
<rect x="363" y="233" width="1" height="1"/>
<rect x="364" y="234" width="1" height="1"/>
<rect x="365" y="235" width="1" height="1"/>
<rect x="366" y="236" width="1" height="1"/>
<rect x="366" y="237" width="1" height="1"/>
<rect x="367" y="238" width="1" height="1"/>
<rect x="367" y="239" width="1" height="1"/>
<rect x="368" y="240" width="1" height="1"/>
<rect x="369" y="241" width="1" height="1"/>
<rect x="369" y="242" width="1" height="1"/>
<rect x="370" y="243" width="1" height="1"/>
<rect x="370" y="244" width="1" height="1"/>
<rect x="371" y="245" width="1" height="1"/>
<rect x="372" y="246" width="1" height="1"/>
<rect x="373" y="247" width="1" height="1"/>
<rect x="374" y="248" width="1" height="1"/>
<rect x="375" y="249" width="1" height="1"/>
<rect x="376" y="250" width="1" height="1"/>
<rect x="376" y="251" width="1" height="1"/>
<rect x="377" y="252" width="1" height="1"/>
<rect x="377" y="253" width="1" height="1"/>
<rect x="378" y="254" width="1" height="1"/>
<rect x="379" y="255" width="1" height="1"/>
<rect x="379" y="256" width="1" height="1"/>
<rect x="380" y="257" width="1" height="1"/>
<rect x="380" y="258" width="1" height="1"/>
<rect x="381" y="259" width="1" height="1"/>
<rect x="382" y="260" width="1" height="1"/>
<rect x="382" y="261" width="1" height="1"/>
<rect x="383" y="262" width="1" height="1"/>
<rect x="383" y="263" width="1" height="1"/>
<rect x="384" y="264" width="1" height="1"/>
<rect x="385" y="265" width="1" height="1"/>
<rect x="386" y="266" width="1" height="1"/>
<rect x="386" y="267" width="1" height="1"/>
<rect x="387" y="268" width="1" height="1"/>
<rect x="388" y="269" width="1" height="1"/>
<rect x="389" y="270" width="1" height="1"/>
<rect x="389" y="271" width="1" height="1"/>
<rect x="390" y="272" width="1" height="1"/>
<rect x="390" y="273" width="1" height="1"/>
<rect x="391" y="274" width="1" height="1"/>
<rect x="392" y="275" width="1" height="1"/>
<rect x="392" y="276" width="1" height="1"/>
<rect x="393" y="277" width="1" height="1"/>
<rect x="393" y="278" width="1" height="1"/>
<rect x="394" y="279" width="1" height="1"/>
<rect x="395" y="280" width="1" height="1"/>
<rect x="395" y="281" width="1" height="1"/>
<rect x="396" y="282" width="1" height="1"/>
<rect x="396" y="283" width="1" height="1"/>
<rect x="397" y="284" width="1" height="1"/>
<rect x="398" y="285" width="1" height="1"/>
<rect x="399" y="286" width="1" height="1"/>
<rect x="400" y="287" width="1" height="1"/>
<rect x="401" y="288" width="1" height="1"/>
<rect x="402" y="289" width="1" height="1"/>
<rect x="403" y="290" width="1" height="1"/>
<rect x="403" y="291" width="1" height="1"/>
<rect x="404" y="292" width="1" height="1"/>
<rect x="405" y="293" width="1" height="1"/>
<rect x="406" y="294" width="1" height="1"/>
<rect x="406" y="295" width="1" height="1"/>
<rect x="407" y="296" width="1" height="1"/>
<rect x="408" y="297" width="1" height="1"/>
<rect x="409" y="298" width="1" height="1"/>
<rect x="410" y="299" width="1" height="1"/>
<rect x="411" y="300" width="1" height="1"/>
<rect x="412" y="301" width="1" height="1"/>
<rect x="412" y="302" width="1" height="1"/>
<rect x="413" y="303" width="1" height="1"/>
<rect x="413" y="304" width="1" height="1"/>
<rect x="414" y="305" width="1" height="1"/>
<rect x="414" y="306" width="1" height="1"/>
<rect x="415" y="307" width="1" height="1"/>
<rect x="415" y="308" width="1" height="1"/>
<rect x="416" y="309" width="1" height="1"/>
<rect x="416" y="310" width="1" height="1"/>
<rect x="417" y="311" width="1" height="1"/>
<rect x="417" y="312" width="1" height="1"/>
<rect x="418" y="313" width="1" height="1"/>
<rect x="418" y="314" width="1" height="1"/>
<rect x="419" y="315" width="1" height="1"/>
<rect x="419" y="316" width="1" height="1"/>
<rect x="420" y="317" width="1" height="1"/>
<rect x="420" y="318" width="1" height="1"/>
<rect x="421" y="319" width="1" height="1"/>
<rect x="422" y="320" width="1" height="1"/>
<rect x="422" y="321" width="1" height="1"/>
<rect x="423" y="322" width="1" height="1"/>
<rect x="424" y="323" width="1" height="1"/>
<rect x="425" y="324" width="1" height="1"/>
<rect x="425" y="325" width="1" height="1"/>
<rect x="426" y="326" width="1" height="1"/>
<rect x="426" y="327" width="1" height="1"/>
<rect x="427" y="328" width="1" height="1"/>
<rect x="427" y="329" width="1" height="1"/>
<rect x="427" y="330" width="1" height="1"/>
<rect x="428" y="331" width="1" height="1"/>
<rect x="428" y="332" width="1" height="1"/>
<rect x="429" y="333" width="1" height="1"/>
<rect x="429" y="334" width="1" height="1"/>
<rect x="430" y="335" width="1" height="1"/>
<rect x="430" y="336" width="1" height="1"/>
<rect x="431" y="337" width="1" height="1"/>
<rect x="431" y="338" width="1" height="1"/>
<rect x="432" y="339" width="1" height="1"/>
<rect x="432" y="340" width="1" height="1"/>
<rect x="433" y="341" width="1" height="1"/>
<rect x="433" y="342" width="1" height="1"/>
<rect x="434" y="343" width="1" height="1"/>
<rect x="434" y="344" width="1" height="1"/>
<rect x="435" y="345" width="1" height="1"/>
<rect x="435" y="346" width="1" height="1"/>
<rect x="436" y="347" width="1" height="1"/>
<rect x="436" y="348" width="1" height="1"/>
<rect x="437" y="349" width="1" height="1"/>
<rect x="437" y="350" width="1" height="1"/>
<rect x="437" y="351" width="1" height="1"/>
<rect x="438" y="352" width="1" height="1"/>
<rect x="438" y="353" width="1" height="1"/>
<rect x="439" y="354" width="1" height="1"/>
<rect x="439" y="355" width="1" height="1"/>
<rect x="440" y="356" width="1" height="1"/>
<rect x="629" y="356" width="13" height="1"/>
<rect x="440" y="357" width="1" height="1"/>
<rect x="623" y="357" width="6" height="1"/>
<rect x="642" y="357" width="3" height="1"/>
<rect x="441" y="358" width="1" height="1"/>
<rect x="621" y="358" width="2" height="1"/>
<rect x="645" y="358" width="3" height="1"/>
<rect x="441" y="359" width="1" height="1"/>
<rect x="620" y="359" width="1" height="1"/>
<rect x="648" y="359" width="2" height="1"/>
<rect x="442" y="360" width="1" height="1"/>
<rect x="618" y="360" width="2" height="1"/>
<rect x="650" y="360" width="2" height="1"/>
<rect x="442" y="361" width="1" height="1"/>
<rect x="616" y="361" width="2" height="1"/>
<rect x="652" y="361" width="2" height="1"/>
<rect x="443" y="362" width="1" height="1"/>
<rect x="609" y="362" width="7" height="1"/>
<rect x="654" y="362" width="2" height="1"/>
<rect x="443" y="363" width="1" height="1"/>
<rect x="606" y="363" width="3" height="1"/>
<rect x="656" y="363" width="2" height="1"/>
<rect x="444" y="364" width="1" height="1"/>
<rect x="599" y="364" width="7" height="1"/>
<rect x="658" y="364" width="4" height="1"/>
<rect x="444" y="365" width="1" height="1"/>
<rect x="594" y="365" width="5" height="1"/>
<rect x="662" y="365" width="2" height="1"/>
<rect x="445" y="366" width="1" height="1"/>
<rect x="592" y="366" width="2" height="1"/>
<rect x="664" y="366" width="2" height="1"/>
<rect x="446" y="367" width="1" height="1"/>
<rect x="591" y="367" width="1" height="1"/>
<rect x="666" y="367" width="2" height="1"/>
<rect x="446" y="368" width="1" height="1"/>
<rect x="590" y="368" width="1" height="1"/>
<rect x="668" y="368" width="3" height="1"/>
<rect x="447" y="369" width="1" height="1"/>
<rect x="589" y="369" width="1" height="1"/>
<rect x="671" y="369" width="2" height="1"/>
<rect x="448" y="370" width="1" height="1"/>
<rect x="587" y="370" width="2" height="1"/>
<rect x="673" y="370" width="2" height="1"/>
<rect x="448" y="371" width="1" height="1"/>
<rect x="585" y="371" width="2" height="1"/>
<rect x="675" y="371" width="3" height="1"/>
<rect x="449" y="372" width="1" height="1"/>
<rect x="584" y="372" width="1" height="1"/>
<rect x="678" y="372" width="3" height="1"/>
<rect x="449" y="373" width="1" height="1"/>
<rect x="583" y="373" width="1" height="1"/>
<rect x="681" y="373" width="4" height="1"/>
<rect x="450" y="374" width="1" height="1"/>
<rect x="582" y="374" width="1" height="1"/>
<rect x="685" y="374" width="3" height="1"/>
<rect x="451" y="375" width="1" height="1"/>
<rect x="581" y="375" width="1" height="1"/>
<rect x="688" y="375" width="3" height="1"/>
<rect x="451" y="376" width="1" height="1"/>
<rect x="580" y="376" width="1" height="1"/>
<rect x="691" y="376" width="3" height="1"/>
<rect x="452" y="377" width="1" height="1"/>
<rect x="579" y="377" width="1" height="1"/>
<rect x="694" y="377" width="3" height="1"/>
<rect x="452" y="378" width="1" height="1"/>
<rect x="578" y="378" width="1" height="1"/>
<rect x="697" y="378" width="2" height="1"/>
<rect x="453" y="379" width="1" height="1"/>
<rect x="576" y="379" width="2" height="1"/>
<rect x="699" y="379" width="2" height="1"/>
<rect x="454" y="380" width="1" height="1"/>
<rect x="575" y="380" width="1" height="1"/>
<rect x="701" y="380" width="3" height="1"/>
<rect x="455" y="381" width="1" height="1"/>
<rect x="574" y="381" width="1" height="1"/>
<rect x="704" y="381" width="4" height="1"/>
<rect x="455" y="382" width="1" height="1"/>
<rect x="572" y="382" width="2" height="1"/>
<rect x="708" y="382" width="6" height="1"/>
<rect x="456" y="383" width="1" height="1"/>
<rect x="571" y="383" width="1" height="1"/>
<rect x="714" y="383" width="3" height="1"/>
<rect x="457" y="384" width="1" height="1"/>
<rect x="570" y="384" width="1" height="1"/>
<rect x="717" y="384" width="4" height="1"/>
<rect x="458" y="385" width="2" height="1"/>
<rect x="569" y="385" width="1" height="1"/>
<rect x="721" y="385" width="3" height="1"/>
<rect x="460" y="386" width="1" height="1"/>
<rect x="568" y="386" width="1" height="1"/>
<rect x="724" y="386" width="7" height="1"/>
<rect x="461" y="387" width="1" height="1"/>
<rect x="567" y="387" width="1" height="1"/>
<rect x="731" y="387" width="3" height="1"/>
<rect x="462" y="388" width="1" height="1"/>
<rect x="566" y="388" width="1" height="1"/>
<rect x="734" y="388" width="6" height="1"/>
<rect x="463" y="389" width="1" height="1"/>
<rect x="565" y="389" width="1" height="1"/>
<rect x="740" y="389" width="4" height="1"/>
<rect x="464" y="390" width="1" height="1"/>
<rect x="564" y="390" width="1" height="1"/>
<rect x="744" y="390" width="2" height="1"/>
<rect x="465" y="391" width="1" height="1"/>
<rect x="563" y="391" width="1" height="1"/>
<rect x="746" y="391" width="2" height="1"/>
<rect x="465" y="392" width="1" height="1"/>
<rect x="562" y="392" width="1" height="1"/>
<rect x="748" y="392" width="2" height="1"/>
<rect x="466" y="393" width="1" height="1"/>
<rect x="561" y="393" width="1" height="1"/>
<rect x="750" y="393" width="3" height="1"/>
<rect x="467" y="394" width="1" height="1"/>
<rect x="560" y="394" width="1" height="1"/>
<rect x="753" y="394" width="4" height="1"/>
<rect x="786" y="394" width="23" height="1"/>
<rect x="468" y="395" width="2" height="1"/>
<rect x="559" y="395" width="1" height="1"/>
<rect x="757" y="395" width="3" height="1"/>
<rect x="776" y="395" width="10" height="1"/>
<rect x="809" y="395" width="3" height="1"/>
<rect x="470" y="396" width="1" height="1"/>
<rect x="558" y="396" width="1" height="1"/>
<rect x="760" y="396" width="16" height="1"/>
<rect x="812" y="396" width="4" height="1"/>
<rect x="471" y="397" width="1" height="1"/>
<rect x="557" y="397" width="1" height="1"/>
<rect x="816" y="397" width="3" height="1"/>
<rect x="472" y="398" width="1" height="1"/>
<rect x="556" y="398" width="1" height="1"/>
<rect x="819" y="398" width="3" height="1"/>
<rect x="473" y="399" width="1" height="1"/>
<rect x="555" y="399" width="1" height="1"/>
<rect x="822" y="399" width="7" height="1"/>
<rect x="474" y="400" width="1" height="1"/>
<rect x="554" y="400" width="1" height="1"/>
<rect x="829" y="400" width="3" height="1"/>
<rect x="475" y="401" width="1" height="1"/>
<rect x="553" y="401" width="1" height="1"/>
<rect x="832" y="401" width="3" height="1"/>
<rect x="476" y="402" width="1" height="1"/>
<rect x="551" y="402" width="2" height="1"/>
<rect x="835" y="402" width="4" height="1"/>
<rect x="477" y="403" width="1" height="1"/>
<rect x="549" y="403" width="2" height="1"/>
<rect x="839" y="403" width="3" height="1"/>
<rect x="478" y="404" width="1" height="1"/>
<rect x="548" y="404" width="1" height="1"/>
<rect x="842" y="404" width="3" height="1"/>
<rect x="479" y="405" width="1" height="1"/>
<rect x="547" y="405" width="1" height="1"/>
<rect x="845" y="405" width="4" height="1"/>
<rect x="480" y="406" width="1" height="1"/>
<rect x="546" y="406" width="1" height="1"/>
<rect x="849" y="406" width="2" height="1"/>
<rect x="481" y="407" width="2" height="1"/>
<rect x="545" y="407" width="1" height="1"/>
<rect x="851" y="407" width="2" height="1"/>
<rect x="483" y="408" width="1" height="1"/>
<rect x="543" y="408" width="2" height="1"/>
<rect x="853" y="408" width="1" height="1"/>
<rect x="484" y="409" width="2" height="1"/>
<rect x="541" y="409" width="2" height="1"/>
<rect x="854" y="409" width="2" height="1"/>
<rect x="486" y="410" width="1" height="1"/>
<rect x="539" y="410" width="2" height="1"/>
<rect x="856" y="410" width="2" height="1"/>
<rect x="487" y="411" width="1" height="1"/>
<rect x="538" y="411" width="1" height="1"/>
<rect x="858" y="411" width="3" height="1"/>
<rect x="488" y="412" width="1" height="1"/>
<rect x="537" y="412" width="1" height="1"/>
<rect x="861" y="412" width="2" height="1"/>
<rect x="488" y="413" width="1" height="1"/>
<rect x="536" y="413" width="1" height="1"/>
<rect x="863" y="413" width="2" height="1"/>
<rect x="489" y="414" width="1" height="1"/>
<rect x="535" y="414" width="1" height="1"/>
<rect x="865" y="414" width="2" height="1"/>
<rect x="490" y="415" width="1" height="1"/>
<rect x="533" y="415" width="2" height="1"/>
<rect x="867" y="415" width="2" height="1"/>
<rect x="491" y="416" width="2" height="1"/>
<rect x="532" y="416" width="1" height="1"/>
<rect x="869" y="416" width="2" height="1"/>
<rect x="493" y="417" width="1" height="1"/>
<rect x="530" y="417" width="2" height="1"/>
<rect x="494" y="418" width="2" height="1"/>
<rect x="528" y="418" width="2" height="1"/>
<rect x="496" y="419" width="1" height="1"/>
<rect x="526" y="419" width="2" height="1"/>
<rect x="497" y="420" width="1" height="1"/>
<rect x="525" y="420" width="1" height="1"/>
<rect x="498" y="421" width="1" height="1"/>
<rect x="523" y="421" width="2" height="1"/>
<rect x="499" y="422" width="1" height="1"/>
<rect x="522" y="422" width="1" height="1"/>
<rect x="500" y="423" width="2" height="1"/>
<rect x="520" y="423" width="2" height="1"/>
<rect x="502" y="424" width="1" height="1"/>
<rect x="517" y="424" width="3" height="1"/>
<rect x="503" y="425" width="2" height="1"/>
<rect x="514" y="425" width="3" height="1"/>
<rect x="505" y="426" width="9" height="1"/>
</g>
<g shape-rendering="crispEdges" fill="#000">
<rect x="18" y="22" width="861" height="1"/>
<rect x="18" y="525" width="861" height="1"/>
<rect x="18" y="22" width="1" height="504"/>
<rect x="878" y="22" width="1" height="504"/>
<rect x="16" y="517" width="2" height="1"/>
<rect x="879" y="517" width="2" height="1"/>
<rect x="16" y="506" width="2" height="1"/>
<rect x="879" y="506" width="2" height="1"/>
<rect x="16" y="495" width="2" height="1"/>
<rect x="879" y="495" width="2" height="1"/>
<rect x="16" y="484" width="2" height="1"/>
<rect x="879" y="484" width="2" height="1"/>
<rect x="16" y="472" width="2" height="1"/>
<rect x="879" y="472" width="2" height="1"/>
<rect x="16" y="461" width="2" height="1"/>
<rect x="879" y="461" width="2" height="1"/>
<rect x="16" y="450" width="2" height="1"/>
<rect x="879" y="450" width="2" height="1"/>
<rect x="16" y="439" width="2" height="1"/>
<rect x="879" y="439" width="2" height="1"/>
<rect x="16" y="427" width="2" height="1"/>
<rect x="879" y="427" width="2" height="1"/>
<rect x="16" y="416" width="2" height="1"/>
<rect x="879" y="416" width="2" height="1"/>
<rect x="16" y="405" width="2" height="1"/>
<rect x="879" y="405" width="2" height="1"/>
<rect x="16" y="394" width="2" height="1"/>
<rect x="879" y="394" width="2" height="1"/>
<rect x="16" y="383" width="2" height="1"/>
<rect x="879" y="383" width="2" height="1"/>
<rect x="16" y="372" width="2" height="1"/>
<rect x="879" y="372" width="2" height="1"/>
<rect x="16" y="360" width="2" height="1"/>
<rect x="879" y="360" width="2" height="1"/>
<rect x="16" y="349" width="2" height="1"/>
<rect x="879" y="349" width="2" height="1"/>
<rect x="16" y="338" width="2" height="1"/>
<rect x="879" y="338" width="2" height="1"/>
<rect x="16" y="327" width="2" height="1"/>
<rect x="879" y="327" width="2" height="1"/>
<rect x="16" y="315" width="2" height="1"/>
<rect x="879" y="315" width="2" height="1"/>
<rect x="16" y="304" width="2" height="1"/>
<rect x="879" y="304" width="2" height="1"/>
<rect x="16" y="293" width="2" height="1"/>
<rect x="879" y="293" width="2" height="1"/>
<rect x="16" y="282" width="2" height="1"/>
<rect x="879" y="282" width="2" height="1"/>
<rect x="16" y="271" width="2" height="1"/>
<rect x="879" y="271" width="2" height="1"/>
<rect x="16" y="260" width="2" height="1"/>
<rect x="879" y="260" width="2" height="1"/>
<rect x="16" y="248" width="2" height="1"/>
<rect x="879" y="248" width="2" height="1"/>
<rect x="16" y="237" width="2" height="1"/>
<rect x="879" y="237" width="2" height="1"/>
<rect x="16" y="226" width="2" height="1"/>
<rect x="879" y="226" width="2" height="1"/>
<rect x="16" y="215" width="2" height="1"/>
<rect x="879" y="215" width="2" height="1"/>
<rect x="16" y="203" width="2" height="1"/>
<rect x="879" y="203" width="2" height="1"/>
<rect x="16" y="192" width="2" height="1"/>
<rect x="879" y="192" width="2" height="1"/>
<rect x="16" y="181" width="2" height="1"/>
<rect x="879" y="181" width="2" height="1"/>
<rect x="16" y="170" width="2" height="1"/>
<rect x="879" y="170" width="2" height="1"/>
<rect x="16" y="159" width="2" height="1"/>
<rect x="879" y="159" width="2" height="1"/>
<rect x="16" y="148" width="2" height="1"/>
<rect x="879" y="148" width="2" height="1"/>
<rect x="16" y="136" width="2" height="1"/>
<rect x="879" y="136" width="2" height="1"/>
<rect x="16" y="125" width="2" height="1"/>
<rect x="879" y="125" width="2" height="1"/>
<rect x="16" y="114" width="2" height="1"/>
<rect x="879" y="114" width="2" height="1"/>
<rect x="16" y="103" width="2" height="1"/>
<rect x="879" y="103" width="2" height="1"/>
<rect x="16" y="91" width="2" height="1"/>
<rect x="879" y="91" width="2" height="1"/>
<rect x="16" y="80" width="2" height="1"/>
<rect x="879" y="80" width="2" height="1"/>
<rect x="16" y="69" width="2" height="1"/>
<rect x="879" y="69" width="2" height="1"/>
<rect x="16" y="58" width="2" height="1"/>
<rect x="879" y="58" width="2" height="1"/>
<rect x="16" y="47" width="2" height="1"/>
<rect x="879" y="47" width="2" height="1"/>
<rect x="16" y="36" width="2" height="1"/>
<rect x="879" y="36" width="2" height="1"/>
<rect x="16" y="24" width="2" height="1"/>
<rect x="879" y="24" width="2" height="1"/>
<rect x="25" y="526" width="1" height="3"/>
<rect x="39" y="526" width="1" height="1"/>
<rect x="53" y="526" width="1" height="1"/>
<rect x="67" y="526" width="1" height="3"/>
<rect x="81" y="526" width="1" height="1"/>
<rect x="96" y="526" width="1" height="1"/>
<rect x="110" y="526" width="1" height="3"/>
<rect x="124" y="526" width="1" height="1"/>
<rect x="139" y="526" width="1" height="1"/>
<rect x="153" y="526" width="1" height="3"/>
<rect x="167" y="526" width="1" height="1"/>
<rect x="181" y="526" width="1" height="1"/>
<rect x="195" y="526" width="1" height="3"/>
<rect x="209" y="526" width="1" height="1"/>
<rect x="224" y="526" width="1" height="1"/>
<rect x="238" y="526" width="1" height="3"/>
<rect x="252" y="526" width="1" height="1"/>
<rect x="267" y="526" width="1" height="1"/>
<rect x="281" y="526" width="1" height="3"/>
<rect x="295" y="526" width="1" height="1"/>
<rect x="309" y="526" width="1" height="1"/>
<rect x="323" y="526" width="1" height="3"/>
<rect x="338" y="526" width="1" height="1"/>
<rect x="352" y="526" width="1" height="1"/>
<rect x="367" y="526" width="1" height="3"/>
<rect x="381" y="526" width="1" height="1"/>
<rect x="396" y="526" width="1" height="1"/>
<rect x="410" y="526" width="1" height="3"/>
<rect x="424" y="526" width="1" height="1"/>
<rect x="438" y="526" width="1" height="1"/>
<rect x="452" y="526" width="1" height="3"/>
<rect x="466" y="526" width="1" height="1"/>
<rect x="480" y="526" width="1" height="1"/>
<rect x="494" y="526" width="1" height="3"/>
<rect x="509" y="526" width="1" height="1"/>
<rect x="523" y="526" width="1" height="1"/>
<rect x="538" y="526" width="1" height="3"/>
<rect x="552" y="526" width="1" height="1"/>
<rect x="567" y="526" width="1" height="1"/>
<rect x="581" y="526" width="1" height="3"/>
<rect x="595" y="526" width="1" height="1"/>
<rect x="609" y="526" width="1" height="1"/>
<rect x="623" y="526" width="1" height="3"/>
<rect x="637" y="526" width="1" height="1"/>
<rect x="652" y="526" width="1" height="1"/>
<rect x="666" y="526" width="1" height="3"/>
<rect x="680" y="526" width="1" height="1"/>
<rect x="695" y="526" width="1" height="1"/>
<rect x="709" y="526" width="1" height="3"/>
<rect x="723" y="526" width="1" height="1"/>
<rect x="738" y="526" width="1" height="1"/>
<rect x="752" y="526" width="1" height="3"/>
<rect x="766" y="526" width="1" height="1"/>
<rect x="780" y="526" width="1" height="1"/>
<rect x="794" y="526" width="1" height="3"/>
<rect x="808" y="526" width="1" height="1"/>
<rect x="823" y="526" width="1" height="1"/>
<rect x="837" y="526" width="1" height="3"/>
<rect x="851" y="526" width="1" height="1"/>
<rect x="866" y="526" width="1" height="1"/>
</g>
</svg>
<div class="t" style="left:18px;top:1px;"><span style="letter-spacing:0.1px">Euro STOXX Bank </span>(SX7E) 102.62 <span style="color:#0000ff">+3.89</span></div>
<div class="t" style="left:639px;top:1px;font-size:15px;">www.fullermoney.com</div>
<div class="t" style="left:804.5px;top:1px;font-size:14.4px;">7 Sep 2011</div>
<div class="t" style="left:22px;top:27.1px;font-size:14px;color:#0000ff">Weekly</div>
<div class="t" style="left:22px;top:44px;font-size:14px;color:#a52a2a">MA 200</div>
<div class="xl" style="left:-5.5px">Oct</div>
<div class="xl" style="left:38.5px">2007</div>
<div class="xl" style="left:79.5px">Apr</div>
<div class="xl" style="left:122.5px">Jul</div>
<div class="xl" style="left:164.5px">Oct</div>
<div class="xl" style="left:209.5px">2008</div>
<div class="xl" style="left:250.5px">Apr</div>
<div class="xl" style="left:292.5px">Jul</div>
<div class="xl" style="left:336.5px">Oct</div>
<div class="xl" style="left:381.5px">2009</div>
<div class="xl" style="left:421.5px">Apr</div>
<div class="xl" style="left:463.5px">Jul</div>
<div class="xl" style="left:507.5px">Oct</div>
<div class="xl" style="left:552.5px">2010</div>
<div class="xl" style="left:592.5px">Apr</div>
<div class="xl" style="left:635.5px">Jul</div>
<div class="xl" style="left:678.5px">Oct</div>
<div class="xl" style="left:723.5px">2011</div>
<div class="xl" style="left:763.5px">Apr</div>
<div class="xl" style="left:806.5px">Jul</div>
<div class="yl" style="top:477px">100</div>
<div class="yl" style="top:365px">200</div>
<div class="yl" style="top:253px">300</div>
<div class="yl" style="top:141px">400</div>
<div class="yl" style="top:29px">500</div>

<div class="t" style="left:741.5px;top:545.6px;font-size:9.33px;line-height:12px;color:#808080;letter-spacing:0.06px">&copy; 2011 Stockcube Research Ltd</div>
</body></html>
